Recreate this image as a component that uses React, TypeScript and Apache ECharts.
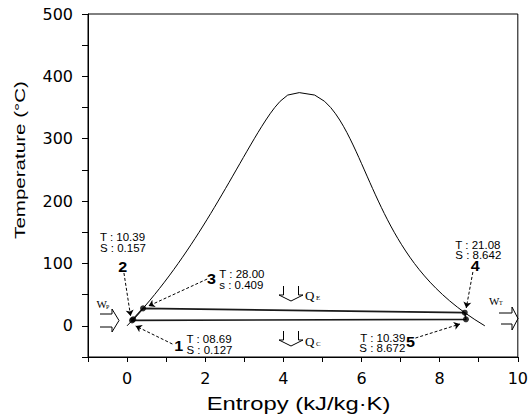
import { useEffect, useRef } from "react";
import * as echarts from "echarts";

// Saturation dome of water (entropy kJ/kg·K vs temperature °C)
const domeS = [
  0, 0.151, 0.2965, 0.4368, 0.5724, 0.7038, 0.8313, 0.9551, 1.0756, 1.1929, 1.3072,
  1.4188, 1.5279, 1.6346, 1.7392, 1.8418, 1.9426, 2.0417, 2.1392, 2.2355, 2.3305,
  2.4245, 2.5177, 2.6101, 2.702, 2.7935, 2.8849, 2.9765, 3.0685, 3.1612, 3.2552,
  3.351, 3.4494, 3.5518, 3.6601, 3.7784, 3.9167, 4.1112, 4.407, 4.8012, 5.0536,
  5.211, 5.3356, 5.4422, 5.5372, 5.6244, 5.7059, 5.7834, 5.8579, 5.9304, 6.0016,
  6.0721, 6.1423, 6.2128, 6.284, 6.3563, 6.4302, 6.5059, 6.584, 6.665, 6.7491,
  6.8371, 6.9293, 7.0264, 7.1291, 7.2381, 7.3541, 7.4781, 7.6111, 7.754, 7.9081,
  8.0748, 8.2555, 8.452, 8.666, 8.8998, 9.1555,
];
const domeT = [
  0, 10, 20, 30, 40, 50, 60, 70, 80, 90, 100, 110, 120, 130, 140, 150, 160, 170, 180,
  190, 200, 210, 220, 230, 240, 250, 260, 270, 280, 290, 300, 310, 320, 330, 340, 350,
  360, 370, 373.95, 370, 360, 350, 340, 330, 320, 310, 300, 290, 280, 270, 260, 250,
  240, 230, 220, 210, 200, 190, 180, 170, 160, 150, 140, 130, 120, 110, 100, 90, 80,
  70, 60, 50, 40, 30, 20, 10, 0,
];

// Cycle states 1..5 and back to 1
const cycleS = [0.127, 0.157, 0.409, 8.642, 8.672, 0.127];
const cycleT = [8.69, 10.39, 28.0, 21.08, 10.39, 8.69];

const pointS = [0.127, 0.157, 0.409, 8.642, 8.672];
const pointT = [8.69, 10.39, 28.0, 21.08, 10.39];

// Annotation arrows (data coordinates)
const arrowFromS = [-0.08, 2.05, 1.16, 8.85, 7.38];
const arrowFromT = [84.7, 75.0, -29.2, 86.3, -19.6];
const arrowToS = [0.09, 0.55, 0.22, 8.68, 8.52];
const arrowToT = [15.7, 31.8, -0.3, 28.5, 2.9];

// Point numbers and their state texts
const numText = ["2", "3", "1", "4", "5"];
const numS = [-0.11, 2.16, 1.32, 8.91, 7.25];
const numT = [94.3, 75.0, -31.7, 95.9, -26.0];

const infoLine1 = ["T : 10.39", "T : 28.00", "T : 08.69", "T : 21.08", "T : 10.39"];
const infoLine2 = ["S : 0.157", "s : 0.409", "S : 0.127", "S : 8.642", "S : 8.672"];
const infoS = [-0.695, 2.36, 1.52, 8.4, 7.12];
const infoT1 = [142.4, 82.3, -22.0, 129.6, -19.6];
const infoT2 = [124.8, 65.4, -38.8, 113.5, -35.6];
const infoAlign = ["left", "left", "left", "left", "right"];

const xTickLabels = ["0", "2", "4", "6", "8", "10"];
const yTickLabels = ["0", "100", "200", "300", "400", "500"];

const xTitle = "Entropy (kJ/kg·K)";
const yTitle = "Temperature (°C)";

const SANS = "'Liberation Sans', Arial, sans-serif";
const SERIF = "'Liberation Serif', 'Times New Roman', serif";

export default function App() {
  const ref = useRef<HTMLDivElement>(null);

  useEffect(() => {
    if (!ref.current) return;
    const chart = echarts.init(ref.current, null, { renderer: "svg" });

    const option: any = {
      animation: false,
      backgroundColor: "#fff",
      grid: {
        left: 88,
        right: 11,
        top: 14,
        bottom: 63,
        show: true,
        borderColor: "#000",
        borderWidth: 1,
        backgroundColor: "transparent",
      },
      xAxis: {
        type: "value",
        min: -1,
        max: 10,
        interval: 1,
        axisLine: { onZero: false, lineStyle: { color: "#000", width: 1 } },
        axisTick: { show: true, inside: false, length: 5, lineStyle: { color: "#000" } },
        axisLabel: {
          color: "#000",
          fontFamily: "'DejaVu Sans', sans-serif",
          fontSize: 16,
          margin: 13,
          formatter: (v: number) => (xTickLabels.includes(String(v)) ? String(v) : ""),
        },
        splitLine: { show: false },
      },
      yAxis: {
        type: "value",
        min: -50,
        max: 500,
        interval: 50,
        axisLine: { onZero: false, lineStyle: { color: "#000", width: 1 } },
        axisTick: { show: true, inside: false, length: 6, lineStyle: { color: "#000" } },
        axisLabel: {
          color: "#000",
          fontFamily: "'DejaVu Sans', sans-serif",
          fontSize: 16,
          margin: 15,
          formatter: (v: number) => (yTickLabels.includes(String(v)) ? String(v) : ""),
        },
        splitLine: { show: false },
      },
      series: [
        {
          name: "dome",
          type: "line",
          data: domeS.map((s, i) => [s, domeT[i]]),
          showSymbol: false,
          symbol: "none",
          lineStyle: { color: "#000", width: 1 },
          silent: true,
          z: 2,
        },
        {
          name: "cycle",
          type: "line",
          data: cycleS.map((s, i) => [s, cycleT[i]]),
          showSymbol: false,
          symbol: "none",
          lineStyle: { color: "#1a1a1a", width: 1.6 },
          silent: true,
          z: 3,
        },
        {
          name: "states",
          type: "scatter",
          data: pointS.map((s, i) => [s, pointT[i]]),
          symbol: "circle",
          symbolSize: 6,
          itemStyle: { color: "#000" },
          silent: true,
          z: 4,
        },
        {
          name: "arrows",
          type: "lines",
          coordinateSystem: "cartesian2d",
          data: arrowFromS.map((s, i) => ({
            coords: [
              [s, arrowFromT[i]],
              [arrowToS[i], arrowToT[i]],
            ],
          })),
          symbol: ["none", "arrow"],
          symbolSize: 6,
          lineStyle: { color: "#000", width: 1, type: [3, 2], opacity: 1 },
          silent: true,
          z: 5,
        },
      ],
    };

    chart.setOption(option);

    const px = (s: number, t: number) =>
      chart.convertToPixel({ gridIndex: 0 }, [s, t]) as number[];

    const txt = (
      x: number,
      y: number,
      text: string,
      fontSize: number,
      family: string,
      align: string,
      opts: any = {}
    ) => ({
      type: "text",
      x,
      y,
      scaleX: opts.scaleX ?? 1,
      rotation: opts.rotation ?? 0,
      silent: true,
      z: 10,
      style: {
        text,
        fontSize,
        fontFamily: family,
        fontWeight: opts.fontWeight ?? "normal",
        fill: "#000",
        align,
        textAlign: align,
        verticalAlign: "middle",
        textVerticalAlign: "middle",
      },
    });

    const g: any[] = [];

    // numbers
    numText.forEach((t, i) => {
      const p = px(numS[i], numT[i]);
      g.push(txt(p[0], p[1], t, 14, SANS, "center", { fontWeight: "bold", scaleX: 1.15 }));
    });
    // state info
    infoLine1.forEach((t, i) => {
      const p1 = px(infoS[i], infoT1[i]);
      const p2 = px(infoS[i], infoT2[i]);
      g.push(txt(p1[0], p1[1], t, 10, SANS, infoAlign[i], { scaleX: 1.15 }));
      g.push(txt(p2[0], p2[1], infoLine2[i], 10, SANS, infoAlign[i], { scaleX: 1.15 }));
    });

    const hollow = (points: number[][]) => ({
      type: "polyline",
      silent: true,
      z: 10,
      shape: { points },
      style: { stroke: "#000", fill: "none", lineWidth: 1 },
    });

    // Q_E and Q_C hollow down arrows
    const qE = [[283.5, 286], [283.5, 295], [279, 295], [291, 301], [303, 295], [298.5, 295], [298.5, 286]];
    g.push(hollow(qE));
    g.push(hollow(qE.map(([x, y]) => [x, y + 45])));
    g.push(txt(305, 295.5, "Q", 13, SERIF, "left"));
    g.push(txt(316, 298, "E", 7, SERIF, "left"));
    g.push(txt(305, 341, "Q", 13, SERIF, "left"));
    g.push(txt(316, 343.5, "C", 7, SERIF, "left"));

    // W_P and W_T hollow right arrows
    g.push(hollow([[100, 314], [112, 314], [112, 309], [119, 320.5], [112, 332], [112, 327], [100, 327]]));
    g.push(txt(96.5, 304, "W", 11, SERIF, "left"));
    g.push(txt(106, 306.5, "P", 6, SERIF, "left"));
    g.push(hollow([[499, 313], [512, 313], [512, 307], [518, 318.5], [512, 330], [512, 324], [501, 324]]));
    g.push(txt(489, 300.5, "W", 11, SERIF, "left"));
    g.push(txt(499, 303, "T", 6, SERIF, "left"));

    // axis titles
    g.push(txt(298.5, 404, xTitle, 17.5, SANS, "center", { scaleX: 1.36 }));
    g.push(txt(20, 160, yTitle, 15, SANS, "center", { scaleX: 1.37, rotation: Math.PI / 2 }));

    chart.setOption({ graphic: { elements: g } });

    return () => chart.dispose();
  }, []);

  return (
    <div
      ref={ref}
      style={{ position: "fixed", left: 0, top: 0, width: 531, height: 420 }}
    />
  );
}
